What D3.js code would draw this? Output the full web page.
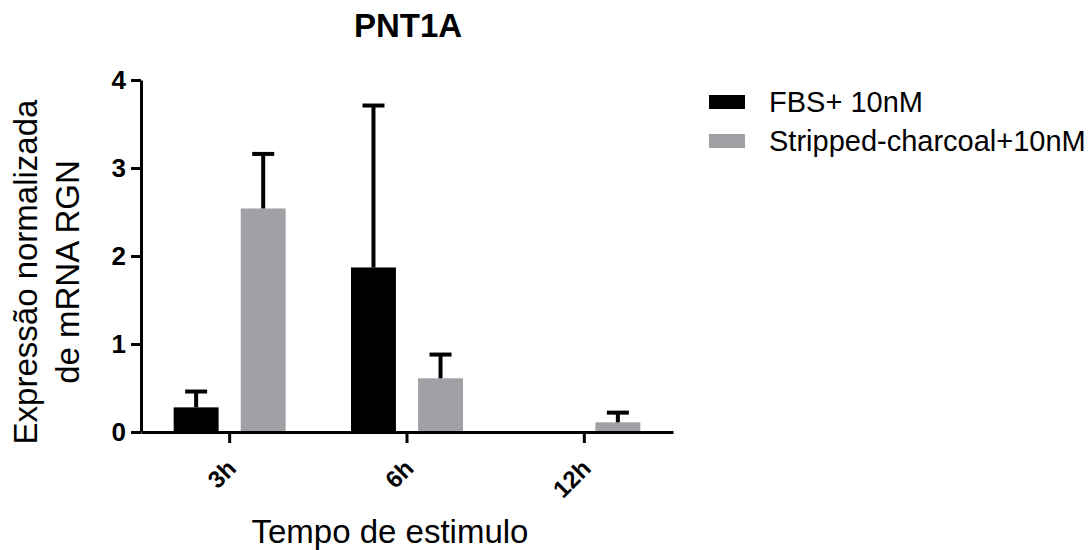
<html>
<head>
<meta charset="utf-8">
<style>
  body { margin: 0; background: white; }
  text { font-family: Arial, "Liberation Sans", sans-serif; }
</style>
</head>
<body>
<svg id="chart" width="1091" height="550"></svg>

<script src="https://d3js.org/d3.v7.min.js"></script>
<script>
// data
var categories = ["3h", "6h", "12h"];
var series = ["FBS+ 10nM", "Stripped-charcoal+10nM"];
var fbsMean = [0.28, 1.87, 0];
var fbsErr = [0.18, 1.84, 0];
var scMean = [2.54, 0.61, 0.11];
var scErr = [0.62, 0.27, 0.11];
var yTicks = [0, 1, 2, 3, 4];
var colors = ["#000000", "#a1a0a5"];

var rows = [];
categories.forEach(function(c, i) {
  rows.push({cat: c, s: series[0], mean: fbsMean[i], err: fbsErr[i]});
  rows.push({cat: c, s: series[1], mean: scMean[i], err: scErr[i]});
});

var svg = d3.select('#chart');

var x = d3.scaleBand().domain(categories).range([141, 673]).padding(0);
var inner = d3.scaleBand().domain(series).range([-56, 56]).paddingInner(0.33);
var y = d3.scaleLinear().domain([0, 4]).range([432, 80]);
var color = d3.scaleOrdinal().domain(series).range(colors);

// bars
svg.selectAll('rect.bar')
  .data(rows.filter(d => d.mean > 0))
  .enter()
  .append('rect')
  .attr('class', 'bar')
  .attr('x', d => x(d.cat) + x.bandwidth() / 2 + inner(d.s))
  .attr('width', inner.bandwidth())
  .attr('y', d => y(d.mean))
  .attr('height', d => y(0) - y(d.mean))
  .attr('fill', d => color(d.s));

// error bars (upper only)
var eb = svg.selectAll('g.err')
  .data(rows.filter(d => d.err > 0))
  .enter()
  .append('g')
  .attr('class', 'err')
  .attr('transform', d => 'translate(' + (x(d.cat) + x.bandwidth() / 2 + inner(d.s) + inner.bandwidth() / 2) + ',0)');
eb.append('line')
  .attr('x1', 0).attr('x2', 0)
  .attr('y1', d => y(d.mean))
  .attr('y2', d => y(d.mean + d.err))
  .attr('stroke', 'black').attr('stroke-width', 4);
eb.append('line')
  .attr('x1', -11).attr('x2', 11)
  .attr('y1', d => y(d.mean + d.err))
  .attr('y2', d => y(d.mean + d.err))
  .attr('stroke', 'black').attr('stroke-width', 4);

// axes
var yAxis = svg.append('g')
  .attr('transform', 'translate(141,0)')
  .call(d3.axisLeft(y).tickValues(yTicks).tickFormat(d3.format('d')).tickSize(10).tickPadding(5).tickSizeOuter(0));
yAxis.select('.domain').attr('stroke-width', 3);
yAxis.selectAll('.tick line').attr('stroke-width', 3);
yAxis.selectAll('.tick text')
  .attr('font-size', 26).attr('font-weight', 'bold')
  .attr('font-family', 'Arial, "Liberation Sans", sans-serif');

var xAxis = svg.append('g')
  .attr('transform', 'translate(0,432)')
  .call(d3.axisBottom(x).tickSize(11).tickSizeOuter(0));
xAxis.select('.domain').attr('stroke-width', 3);
xAxis.selectAll('.tick line').attr('stroke-width', 3);
xAxis.selectAll('.tick text')
  .attr('font-size', 24).attr('font-weight', 'bold')
  .attr('font-family', 'Arial, "Liberation Sans", sans-serif')
  .attr('text-anchor', 'end')
  .attr('x', 0).attr('y', 0).attr('dy', 0)
  .attr('transform', 'translate(8,38) rotate(-45)');

// title
svg.append('text')
  .attr('x', 408).attr('y', 37)
  .attr('text-anchor', 'middle')
  .attr('font-size', 33).attr('font-weight', 'bold')
  .text('PNT1A');

// y label
var yl = svg.append('text')
  .attr('transform', 'translate(0,272) rotate(-90)')
  .attr('text-anchor', 'middle')
  .attr('font-size', 33);
yl.append('tspan').attr('x', 0).attr('y', 37).text('Expressão normalizada');
yl.append('tspan').attr('x', 0).attr('y', 79).text('de mRNA RGN');

// x label
svg.append('text')
  .attr('x', 390).attr('y', 543)
  .attr('text-anchor', 'middle')
  .attr('font-size', 33)
  .text('Tempo de estimulo');

// legend
var lg = svg.selectAll('g.leg')
  .data(series)
  .enter()
  .append('g')
  .attr('class', 'leg')
  .attr('transform', (d, i) => 'translate(709,' + (95 + i * 39) + ')');
lg.append('rect').attr('width', 36).attr('height', 14).attr('fill', d => color(d));
lg.append('text')
  .attr('x', 60).attr('y', 17)
  .attr('font-size', 29)
  .text(d => d);
</script>
</body>
</html>
